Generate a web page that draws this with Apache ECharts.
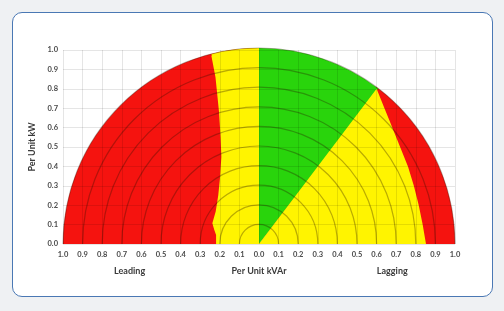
<!DOCTYPE html>
<html>
<head>
<meta charset="utf-8">
<script src="https://cdn.jsdelivr.net/npm/echarts@6/dist/echarts.min.js"></script>
<style>
  html, body { margin: 0; padding: 0; width: 504px; height: 311px; background: #eff1f3; overflow: hidden; }
  #card { position: absolute; left: 12px; top: 12px; width: 479px; height: 283px; border: 1.5px solid #4a78b4; border-radius: 10px; background: #ffffff; }
  #chart { position: absolute; left: 0; top: 0; width: 504px; height: 311px; }
</style>
</head>
<body>
<div id="card"></div>
<div id="chart"></div>
<script>
// ---- data ----
const xTickLabels = ['1.0','0.9','0.8','0.7','0.6','0.5','0.4','0.3','0.2','0.1','0.0','0.1','0.2','0.3','0.4','0.5','0.6','0.7','0.8','0.9','1.0'];
const yTickLabels = ['0.0','0.1','0.2','0.3','0.4','0.5','0.6','0.7','0.8','0.9','1.0'];
const sideLabels = ['Leading', 'Lagging'];
const capabilityRadius = 1.0;
// green/yellow boundary (unity to lagging PF limit), from origin to this point
const greenEdgePoint = [0.60, 0.80];
// leading limit: boundary between red (left) and yellow, top to bottom [kVAr, kW]
const leadingBoundary = [[-0.243,0.970],[-0.222,0.860],[-0.213,0.770],[-0.204,0.680],[-0.196,0.550],[-0.192,0.450],[-0.199,0.340],[-0.208,0.250],[-0.221,0.167],[-0.238,0.107],[-0.228,0.072],[-0.219,0.046],[-0.219,0.000]];
// lagging limit: boundary between yellow and red (right), top to bottom
const laggingBoundary = [[0.600,0.800],[0.640,0.700],[0.680,0.600],[0.720,0.500],[0.760,0.400],[0.790,0.300],[0.815,0.200],[0.835,0.100],[0.852,0.000]];
// concentric reference circles
const rings = [0.1,0.2,0.3,0.4,0.5,0.6,0.7,0.8,0.9,1.0];

const RED = '#f5130f', YELLOW = '#fff400', GREEN = '#29d40c';

const chart = echarts.init(document.getElementById('chart'), null, { renderer: 'canvas' });
const deg = Math.PI / 180;

function renderRegions(params, api) {
  const c = api.coord([0, 0]);
  const unit = api.size([1, 0])[0];
  const R = capabilityRadius * unit;
  const mathAngle = p => Math.atan2(p[1], p[0]); // radians, CCW
  const sector = (a1, a2, color) => ({
    type: 'sector',
    shape: { cx: c[0], cy: c[1], r0: 0, r: R, startAngle: -a2, endAngle: -a1, clockwise: true },
    style: { fill: color }
  });
  const poly = (pts, color) => ({
    type: 'polygon',
    shape: { points: pts.map(p => api.coord(p)) },
    style: { fill: color }
  });
  const gA = mathAngle(greenEdgePoint);
  const lA = mathAngle(leadingBoundary[0]);
  const children = [];
  children.push(sector(90 * deg, 180 * deg, RED));
  children.push(sector(0, gA + 0.3 * deg, RED));
  children.push(sector(gA - 0.6 * deg, 90 * deg, GREEN));
  children.push(sector(90 * deg, lA, YELLOW));
  children.push(poly([[0, 0], [0, 0.9]].concat(leadingBoundary), YELLOW));
  children.push(poly([[0, 0]].concat(laggingBoundary), YELLOW));
  rings.forEach(r => {
    children.push({
      type: 'arc',
      shape: { cx: c[0], cy: c[1], r: r * unit, startAngle: -Math.PI, endAngle: 0, clockwise: true },
      style: { fill: null, stroke: 'rgba(40,20,0,0.32)', lineWidth: 1.2 }
    });
  });
  return { type: 'group', children: children };
}

const labelFont = { fontFamily: 'Lato', fontSize: 7.5, fontWeight: 'bold', color: '#4a4a4a' };

chart.setOption({
  animation: false,
  grid: { left: 63, right: 49, top: 50, bottom: 67 },
  xAxis: {
    type: 'value', min: -1, max: 1, interval: 0.1,
    name: 'Per Unit kVAr', nameLocation: 'middle', nameGap: 23,
    nameTextStyle: { fontFamily: 'Lato', fontSize: 9, fontWeight: 'bold', color: '#3a3a3a' },
    axisLine: { show: false }, axisTick: { show: false },
    axisLabel: Object.assign({ margin: 7, formatter: v => xTickLabels[Math.round((v + 1) * 10)] }, labelFont),
    splitLine: { show: true, lineStyle: { color: 'rgba(0,0,0,0.10)', width: 1 } }
  },
  yAxis: {
    type: 'value', min: 0, max: 1, interval: 0.1,
    name: 'Per Unit kW', nameLocation: 'middle', nameGap: 20, nameRotate: 90,
    nameTextStyle: { fontFamily: 'Lato', fontSize: 9, fontWeight: 'bold', color: '#3a3a3a' },
    axisLine: { show: false }, axisTick: { show: false },
    axisLabel: Object.assign({ margin: 5, formatter: v => yTickLabels[Math.round(v * 10)] }, labelFont),
    splitLine: { show: true, lineStyle: { color: 'rgba(0,0,0,0.10)', width: 1 } }
  },
  series: [{
    type: 'custom',
    coordinateSystem: 'cartesian2d',
    silent: true,
    z: -1,
    clip: false,
    data: [[0, 0]],
    renderItem: renderRegions
  }]
});

// side labels positioned under the axis
const yName = chart.convertToPixel({ yAxisIndex: 0 }, 0) + 27;
chart.setOption({
  graphic: [
    { type: 'text', x: chart.convertToPixel({ xAxisIndex: 0 }, -0.66), y: yName,
      style: { text: sideLabels[0], fontFamily: 'Lato', fontSize: 9, fontWeight: 'bold', fill: '#3a3a3a', textAlign: 'center', textVerticalAlign: 'middle' } },
    { type: 'text', x: chart.convertToPixel({ xAxisIndex: 0 }, 0.68), y: yName,
      style: { text: sideLabels[1], fontFamily: 'Lato', fontSize: 9, fontWeight: 'bold', fill: '#3a3a3a', textAlign: 'center', textVerticalAlign: 'middle' } }
  ]
});
</script>
</body>
</html>
